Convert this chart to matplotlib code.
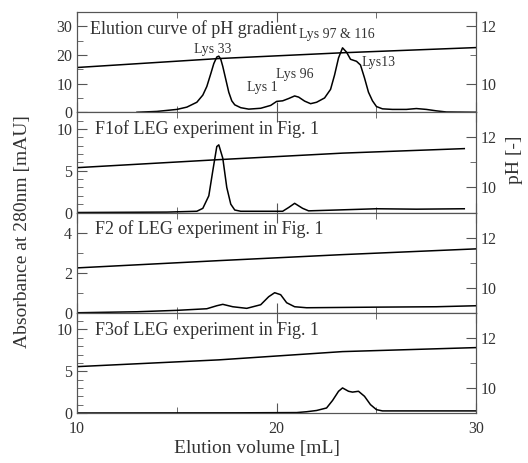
import matplotlib
matplotlib.use('Agg')
import matplotlib.pyplot as plt
from matplotlib.ticker import MultipleLocator

plt.rcParams['font.family'] = ['Liberation Serif', 'DejaVu Serif']

# pH gradient (read at a few elution volumes)
ph_x = [10, 17.1, 23.3, 30]
ph_1 = [10.58, 10.89, 11.09, 11.27]
ph_x2 = [10, 17.1, 23.3, 29.4]
ph_2 = [10.79, 11.11, 11.37, 11.55]
ph_3 = [10.79, 11.08, 11.32, 11.55]
ph_4 = [10.85, 11.12, 11.45, 11.61]

# absorbance, elution curve of pH gradient
x1 = [13.0, 14.0, 15.0, 15.5, 16.0, 16.3, 16.5, 16.7, 16.85, 17.0, 17.1, 17.2, 17.3,
      17.45, 17.6, 17.75, 17.9, 18.2, 18.6, 19.2, 19.7, 20.0, 20.3, 20.6, 20.9, 21.1,
      21.4, 21.7, 22.0, 22.4, 22.7, 22.9, 23.1, 23.3, 23.5, 23.7, 24.0, 24.2, 24.4,
      24.6, 24.8, 25.0, 25.3, 25.8, 26.5, 27.0, 27.5, 28.0, 28.5, 30.0]
a1 = [0.0, 0.3, 1.0, 1.8, 3.5, 6.0, 9.0, 13.5, 17.0, 19.3, 19.6, 18.5, 16.0,
      11.5, 7.0, 4.0, 2.6, 1.6, 1.1, 1.4, 2.4, 3.8, 4.0, 4.8, 5.7, 5.3,
      3.9, 3.0, 3.5, 5.0, 8.0, 13.0, 19.0, 22.5, 21.0, 18.5, 17.8, 16.5, 12.0,
      7.0, 4.0, 2.0, 1.2, 1.0, 1.0, 1.3, 1.0, 0.5, 0.1, 0.0]

# F1 of LEG experiment
x2 = [10.0, 14.5, 16.0, 16.3, 16.6, 16.8, 17.0, 17.1, 17.3, 17.5, 17.7, 17.9, 18.2,
      20.3, 20.6, 20.9, 21.3, 21.6, 23.0, 25.0, 27.0, 29.4]
a2 = [0.0, 0.05, 0.15, 0.5, 2.0, 5.0, 7.9, 8.1, 6.5, 3.0, 1.0, 0.3, 0.15,
      0.15, 0.6, 1.1, 0.5, 0.2, 0.3, 0.45, 0.4, 0.45]

# F2 of LEG experiment
x3 = [10.0, 13.0, 15.0, 16.5, 17.0, 17.3, 17.8, 18.5, 19.2, 19.6, 19.9, 20.2, 20.5,
      20.9, 21.5, 25.0, 28.0, 30.0]
a3 = [0.0, 0.05, 0.12, 0.2, 0.35, 0.42, 0.3, 0.22, 0.4, 0.8, 1.0, 0.9, 0.5,
      0.3, 0.25, 0.28, 0.3, 0.35]

# F3 of LEG experiment
x4 = [10.0, 18.0, 21.0, 21.5, 22.0, 22.5, 22.8, 23.1, 23.3, 23.6, 23.8, 24.1, 24.4,
      24.7, 25.0, 25.3, 26.0, 30.0]
a4 = [0.0, 0.02, 0.05, 0.15, 0.3, 0.6, 1.5, 2.6, 3.0, 2.6, 2.5, 2.6, 2.0,
      1.0, 0.4, 0.25, 0.25, 0.25]

panel_titles = ['Elution curve of pH gradient', 'F1of LEG experiment in Fig. 1',
                'F2 of LEG experiment in Fig. 1', 'F3of LEG experiment in Fig. 1']
peak_labels = ['Lys 33', 'Lys 1', 'Lys 96', 'Lys 97 & 116', 'Lys13']
peak_x = [16.8, 19.3, 20.9, 23.0, 25.1]
peak_y = [21.8, 8.7, 13.2, 27.0, 17.3]

abs_x = [x1, x2, x3, x4]
abs_y = [a1, a2, a3, a4]
ph_xs = [ph_x, ph_x2, ph_x, ph_x]
ph_ys = [ph_1, ph_2, ph_3, ph_4]
abs_lim = [35, 12, 5, 12]
abs_major = [10, 5, 2, 5]
abs_minor = [5, 1, 1, 1]
ph_lim = [(9.03, 12.5), (9, 13), (9, 13), (9, 13)]

txt = '#333333'
spine = '#555555'

fig = plt.figure(figsize=(5.28, 4.63), dpi=100)
left, width = 0.146, 0.756
bottom, h = 0.108, 0.2165

for i in range(4):
    ax = fig.add_axes([left, bottom + (3 - i) * h, width, h])
    ax.plot(abs_x[i], abs_y[i], color='black', lw=1.1)
    ax.set_xlim(10, 30)
    ax.set_ylim(0, abs_lim[i])
    ax.yaxis.set_major_locator(MultipleLocator(abs_major[i]))
    ax.yaxis.set_minor_locator(MultipleLocator(abs_minor[i]))
    ax.xaxis.set_major_locator(MultipleLocator(10))
    ax.xaxis.set_minor_locator(MultipleLocator(5))
    ax.tick_params(which='both', direction='in', top=True, right=False,
                   colors=spine, labelcolor=txt, labelsize=11.5)
    ax.tick_params(which='major', length=7)
    ax.tick_params(which='minor', length=4)
    ax.tick_params(axis='x', pad=6)
    if i < 3:
        ax.tick_params(axis='x', labelbottom=False)
    for s in ax.spines.values():
        s.set_color(spine)
    ax.text(0.045 if i else 0.032, 0.83, panel_titles[i],
            transform=ax.transAxes, fontsize=13, color=txt, va='center')

    ax2 = ax.twinx()
    ax2.plot(ph_xs[i], ph_ys[i], color='black', lw=1.1)
    ax2.set_ylim(*ph_lim[i])
    ax2.yaxis.set_major_locator(MultipleLocator(2))
    ax2.yaxis.set_minor_locator(MultipleLocator(1))
    ax2.tick_params(which='both', direction='in', colors=spine,
                    labelcolor=txt, labelsize=11.5)
    ax2.tick_params(which='major', length=7)
    ax2.tick_params(which='minor', length=4)
    for s in ax2.spines.values():
        s.set_color(spine)

    if i == 0:
        for lab, px, py in zip(peak_labels, peak_x, peak_y):
            ax.text(px, py, lab, fontsize=10, color=txt, ha='center', va='center')

fig.text(0.042, 0.5, 'Absorbance at 280nm [mAU]', rotation=90, fontsize=14,
         color=txt, ha='center', va='center')
fig.text(0.975, 0.655, 'pH [-]', rotation=90, fontsize=14, color=txt,
         ha='center', va='center')
fig.text(0.487, 0.032, 'Elution volume [mL]', fontsize=14, color=txt,
         ha='center', va='center')

fig.savefig('out.png', dpi=100)
